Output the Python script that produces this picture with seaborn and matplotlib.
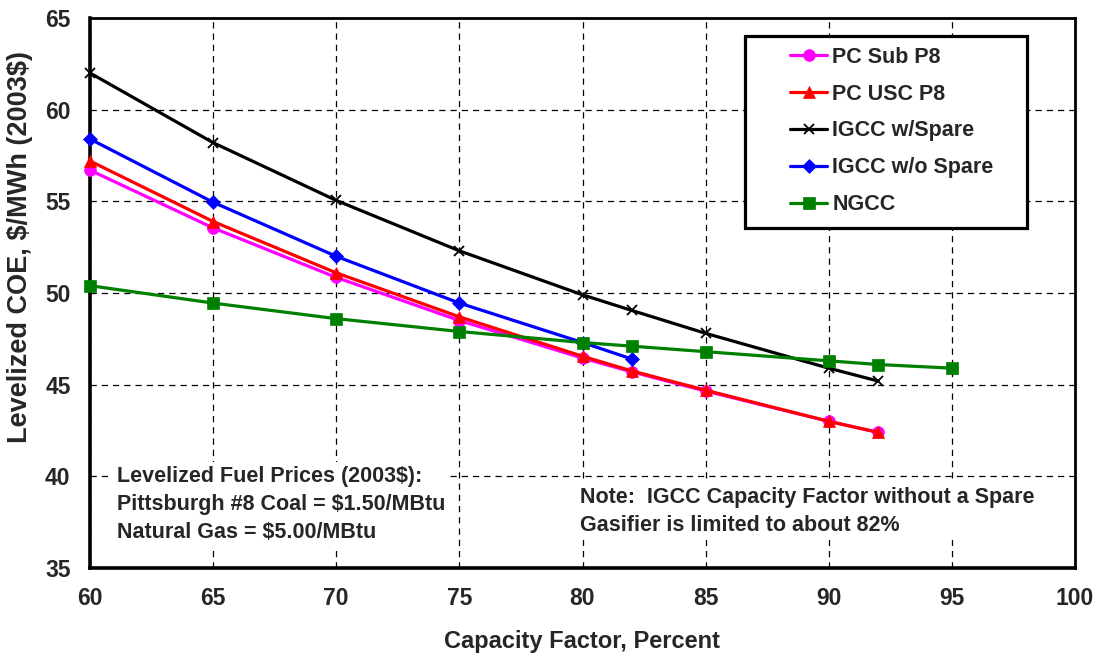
import pandas as pd
import matplotlib
matplotlib.use("Agg")
import matplotlib.pyplot as plt
from matplotlib.patches import Rectangle
import seaborn as sns

# Capacity factor (%) and levelized COE ($/MWh, 2003$)
cf_pc = [60, 65, 70, 75, 80, 82, 85, 90, 92]
pc_sub = [56.7, 53.55, 50.85, 48.5, 46.45, 45.7, 44.65, 43.0, 42.4]
pc_usc = [57.2, 53.9, 51.1, 48.7, 46.55, 45.75, 44.7, 43.0, 42.4]

cf_igcc = [60, 65, 70, 75, 80, 82, 85, 90, 92]
igcc_spare = [62.0, 58.2, 55.05, 52.3, 49.9, 49.05, 47.8, 45.9, 45.2]

cf_igcc_nospare = [60, 65, 70, 75, 80, 82]
igcc_nospare = [58.4, 54.95, 52.0, 49.45, 47.3, 46.4]

cf_ngcc = [60, 65, 70, 75, 80, 82, 85, 90, 92, 95]
ngcc = [50.4, 49.45, 48.6, 47.9, 47.3, 47.1, 46.8, 46.3, 46.1, 45.9]

series_names = ["PC Sub P8", "PC USC P8", "IGCC w/Spare", "IGCC w/o Spare", "NGCC"]
series_x = [cf_pc, cf_pc, cf_igcc, cf_igcc_nospare, cf_ngcc]
series_y = [pc_sub, pc_usc, igcc_spare, igcc_nospare, ngcc]

colors = {"PC Sub P8": "#ff00ff", "PC USC P8": "#ff0000", "IGCC w/Spare": "#000000",
          "IGCC w/o Spare": "#0000ff", "NGCC": "#008000"}
markers = {"PC Sub P8": "o", "PC USC P8": "^", "IGCC w/Spare": "x",
           "IGCC w/o Spare": "D", "NGCC": "s"}
msizes = {"PC Sub P8": 8.5, "PC USC P8": 9, "IGCC w/Spare": 7,
          "IGCC w/o Spare": 7, "NGCC": 8.5}

frames = []
for name, xs, ys in zip(series_names, series_x, series_y):
    frames.append(pd.DataFrame({"cf": xs, "coe": ys, "plant": name}))
df = pd.concat(frames, ignore_index=True)

sns.set_style("white")
plt.rcParams["font.family"] = ["Liberation Sans", "DejaVu Sans"]
plt.rcParams["font.weight"] = "bold"

fig = plt.figure(figsize=(10.98, 6.56), dpi=100)
ax = fig.add_axes([90 / 1098, 1 - 568 / 656, 985 / 1098, 550 / 656])

for name in series_names:
    sub = df[df["plant"] == name]
    sns.lineplot(data=sub, x="cf", y="coe", ax=ax, color=colors[name],
                 marker=markers[name], markersize=msizes[name],
                 markeredgecolor=colors[name],
                 markeredgewidth=1.3 if name == "IGCC w/Spare" else 0.5,
                 linewidth=2.3, label=name, sort=False, clip_on=False, zorder=3)

ax.set_xlim(60, 100)
ax.set_ylim(35, 65)
ax.set_xticks(range(60, 101, 5))
ax.set_yticks(range(35, 66, 5))
ax.grid(True, linestyle=(0, (5, 4)), color="black", linewidth=0.9)
ax.set_axisbelow(True)

for side in ["top", "right"]:
    ax.spines[side].set_linewidth(2.0)
    ax.spines[side].set_color("black")
for side in ["left", "bottom"]:
    ax.spines[side].set_linewidth(2.6)
    ax.spines[side].set_color("black")
ax.tick_params(axis="both", direction="out", length=6, width=1, color="black",
               labelsize=16.5, pad=8)
for lbl in ax.get_xticklabels() + ax.get_yticklabels():
    lbl.set_fontweight("bold")

ax.set_xlabel("Capacity Factor, Percent", fontsize=17, fontweight="bold", labelpad=14)
ax.set_ylabel("Levelized COE, \\$/MWh (2003\\$)", fontsize=19.5, fontweight="bold", labelpad=9)
ax.yaxis.label.set_y(0.584)

# legend frame drawn separately so the padding can match the original
ax.add_patch(Rectangle((0.665, 0.618), 0.286, 0.349, transform=ax.transAxes,
                       facecolor="white", edgecolor="black", linewidth=2.3, zorder=4))
leg = ax.legend(loc="upper left", bbox_to_anchor=(0.711, 0.948), fontsize=15.5,
                frameon=False, handlelength=1.7, labelspacing=0.74, borderpad=0,
                borderaxespad=0, handletextpad=0.25)
leg.set_zorder(5)
for t in leg.get_texts():
    t.set_fontweight("bold")

ax.text(61.1, 38.45, "Levelized Fuel Prices (2003\\$):\nPittsburgh #8 Coal = \\$1.50/MBtu\nNatural Gas = \\$5.00/MBtu",
        fontsize=15.5, fontweight="bold", linespacing=1.45, va="center", ha="left",
        bbox=dict(facecolor="white", edgecolor="none", pad=3))
ax.text(79.9, 38.1, "Note:  IGCC Capacity Factor without a Spare\nGasifier is limited to about 82%",
        fontsize=15.5, fontweight="bold", linespacing=1.45, va="center", ha="left",
        bbox=dict(facecolor="white", edgecolor="none", pad=3))

fig.savefig("out.png", dpi=100)
